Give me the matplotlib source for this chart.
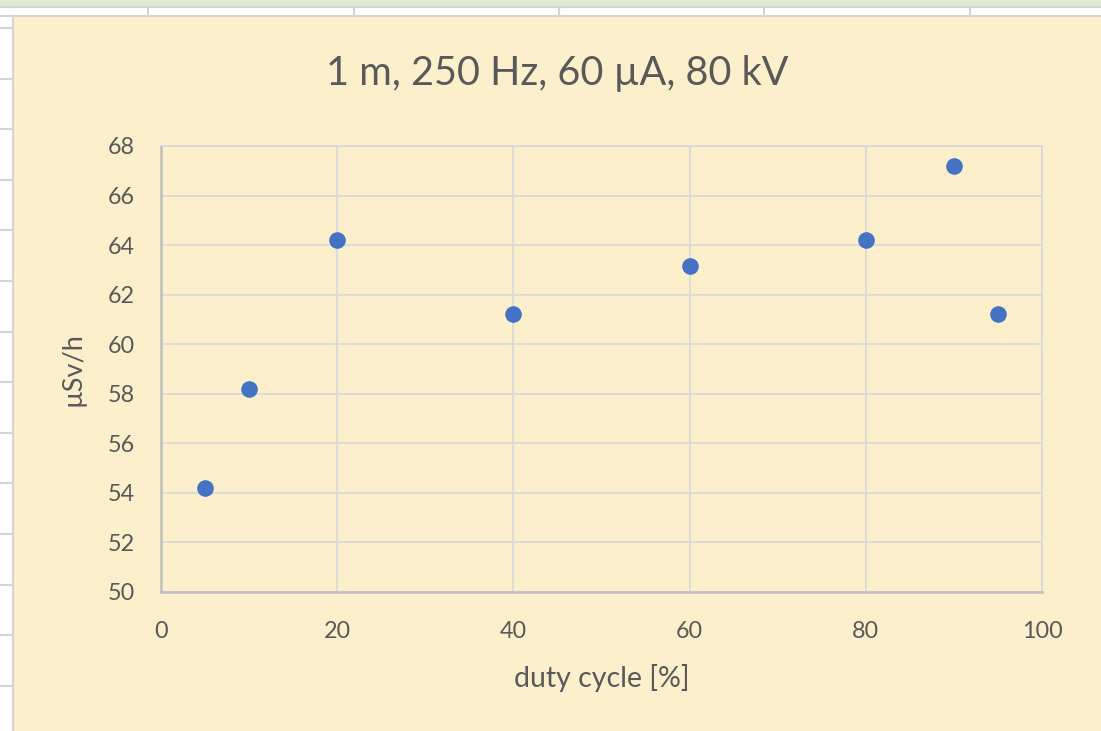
import numpy as np
import matplotlib.pyplot as plt
from matplotlib.patches import Rectangle
from matplotlib.lines import Line2D

duty_cycle = [5, 10, 20, 40, 60, 80, 90, 95]
dose_rate = [54.2, 58.2, 64.2, 61.2, 63.15, 64.2, 67.2, 61.2]
x_ticks = [0, 20, 40, 60, 80, 100]
y_ticks = [50, 52, 54, 56, 58, 60, 62, 64, 66, 68]

W, H = 1101, 731
bg = '#FCEFCB'
txt = '#595959'
plt.rcParams['font.family'] = ['Lato', 'DejaVu Sans']

fig = plt.figure(figsize=(W / 100, H / 100), dpi=100)
fig.patch.set_facecolor('white')

# spreadsheet bits around the chart (kept behind the axes)
fig.patches.append(Rectangle((0, 1 - 6 / H), 1, 6 / H, transform=fig.transFigure,
                             facecolor='#DDEBD5', edgecolor='none', zorder=-10))
for yy in [7, 16]:
    fig.lines.append(Line2D([0, 1], [1 - yy / H] * 2, transform=fig.transFigure,
                            color='#D4D4D4', lw=1.5, zorder=-10))
for xx in [148, 354, 559, 764, 970]:
    fig.lines.append(Line2D([xx / W] * 2, [1 - 7 / H, 1 - 16 / H], transform=fig.transFigure,
                            color='#D4D4D4', lw=1.5, zorder=-10))
for k in range(14):
    yy = 28 + 50.6 * k
    fig.lines.append(Line2D([0, 13 / W], [1 - yy / H] * 2, transform=fig.transFigure,
                            color='#D4D4D4', lw=1.5, zorder=-10))
fig.lines.append(Line2D([13 / W] * 2, [0, 1 - 16 / H], transform=fig.transFigure,
                        color='#D4D4D4', lw=1.5, zorder=-10))
fig.patches.append(Rectangle((14 / W, 0), 1 - 14 / W, 1 - 17 / H, transform=fig.transFigure,
                             facecolor=bg, edgecolor='none', zorder=-9))

ax = fig.add_axes([161 / W, 1 - 591.7 / H, (1042 - 161) / W, (591.7 - 146) / H])
ax.set_facecolor(bg)
ax.set_xlim(0, 100)
ax.set_ylim(50, 68)
ax.set_xticks(x_ticks)
ax.set_yticks(y_ticks)
ax.grid(True, color='#D9D9D9', lw=1.2)
ax.set_axisbelow(True)
for s in ['top', 'right']:
    ax.spines[s].set_color('#D9D9D9')
    ax.spines[s].set_linewidth(1.2)
for s in ['left', 'bottom']:
    ax.spines[s].set_color('#BFBFBF')
    ax.spines[s].set_linewidth(1.8)
ax.tick_params(length=0, labelsize=16.8, labelcolor=txt)
ax.tick_params(axis='x', pad=21)
ax.tick_params(axis='y', pad=19)

ax.scatter(duty_cycle, dose_rate, s=120, color='#4472C4', zorder=3, clip_on=False)

ax.set_xlabel('duty cycle [%]', fontsize=20.5, color=txt, labelpad=16)
ax.set_ylabel('µSv/h', fontsize=19.5, color=txt, labelpad=16)
fig.text(557 / W, 1 - 73 / H, '1 m, 250 Hz, 60 µA, 80 kV', fontsize=28.5, color=txt,
         ha='center', va='center')

fig.savefig('out.png', dpi=100, facecolor=fig.get_facecolor())
